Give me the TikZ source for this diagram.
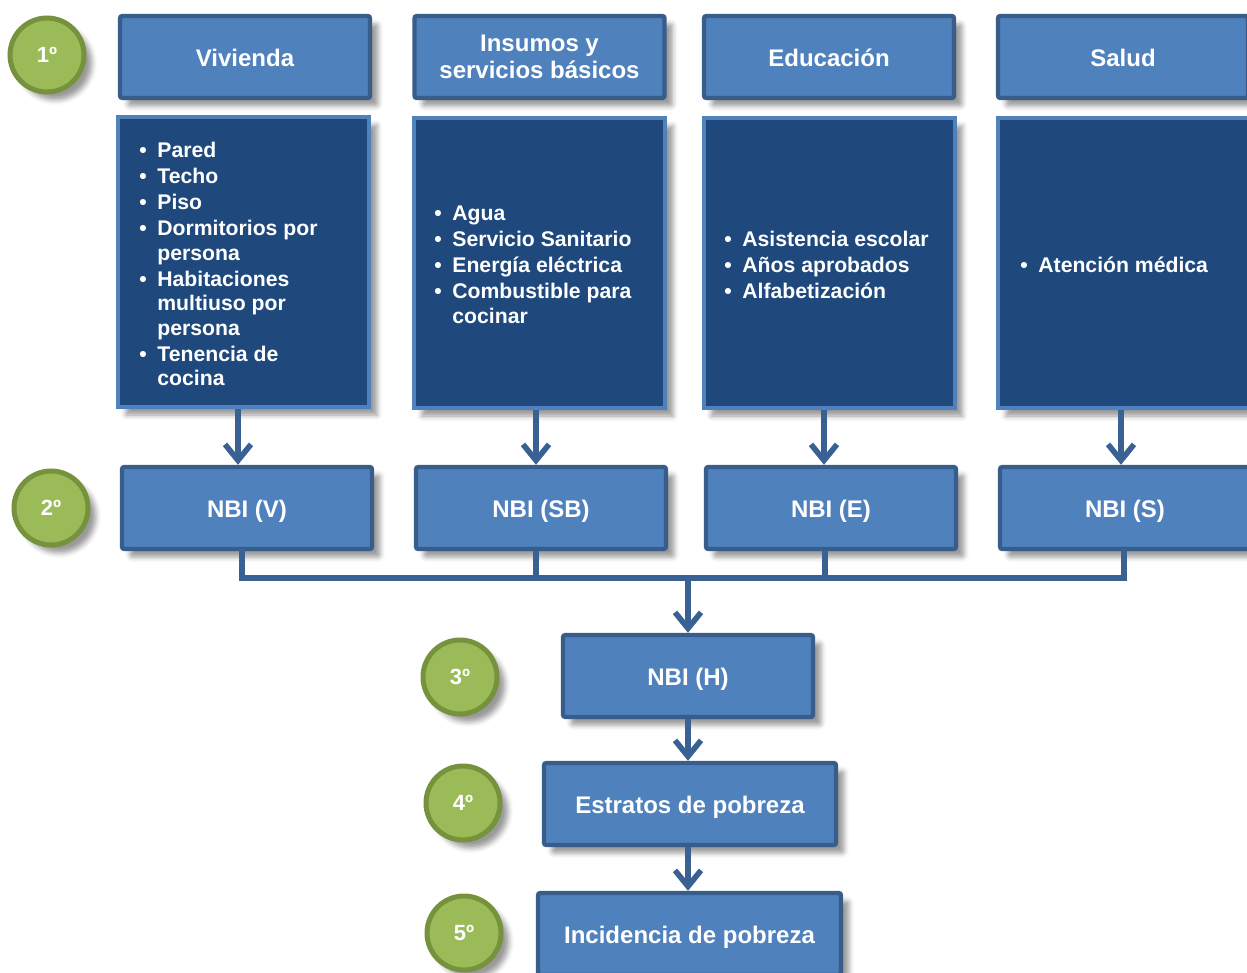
\documentclass[tikz,border=0pt]{standalone}
\usepackage{fontspec}
\setmainfont{Liberation Sans}
\usetikzlibrary{arrows.meta,shadows.blur}
\definecolor{hdrfill}{HTML}{4F81BD}
\definecolor{hdrline}{HTML}{385D8A}
\definecolor{boxfill}{HTML}{1F497D}
\definecolor{arrcol}{HTML}{3A6194}
\definecolor{stepfill}{HTML}{9BBB59}
\definecolor{stepline}{HTML}{76923C}
\newcommand\bul[1]{\makebox[9pt][l]{\textbullet}#1}
\newcommand\cnt[1]{\hspace*{9pt}#1}
\begin{document}
\begin{tikzpicture}[x=0.5pt,y=-0.5pt,
  boxshadow/.style={blur shadow={shadow xshift=4pt, shadow yshift=-4pt, shadow blur radius=2.5pt, shadow opacity=40}},
  hdr/.style={draw=hdrline, line width=2.2pt, fill=hdrfill, rounded corners=1.2pt, text=white,
    font=\fontsize{12}{13.5}\selectfont\bfseries, align=center, minimum width=125pt, minimum height=41pt,
    inner sep=0pt, boxshadow},
  oneline/.style={text height=11.4pt, text depth=2pt},
  listbox/.style={draw=hdrfill, line width=2pt, fill=boxfill, minimum width=125.5pt, minimum height=145pt,
    inner sep=0pt, boxshadow},
  listtxt/.style={text=white, font=\fontsize{10.6}{12.25}\selectfont\bfseries, align=left, anchor=west, inner sep=0pt},
  stepc/.style={circle, draw=stepline, line width=2.5pt, fill=stepfill, minimum size=37pt, inner sep=0pt,
    text=white, font=\fontsize{11}{12}\selectfont\bfseries, boxshadow},
  arr/.style={draw=arrcol, line width=2.8pt, -{Straight Barb[length=8pt, width=13pt]}},
  link/.style={draw=arrcol, line width=2.8pt}]
\useasboundingbox (0,0) rectangle (1247,973);
\clip (0,0) rectangle (1247,973);

% step markers
\node[stepc] (s1) at (47,55) {1º};
\node[stepc] (s2) at (51,508) {2º};
\node[stepc] (s3) at (460,677) {3º};
\node[stepc] (s4) at (463,803) {4º};
\node[stepc] (s5) at (464,933) {5º};

% dimension headers
\node[hdr, oneline] (hv) at (245,57) {Vivienda};
\node[hdr] (hsb) at (539.5,57) {Insumos y\\servicios básicos};
\node[hdr, oneline] (he) at (829,57) {Educación};
\node[hdr, oneline] (hs) at (1123,57) {Salud};

% indicator boxes
\node[listbox] (lv) at (243.5,262) {};
\node[listbox] (lsb) at (539.5,263) {};
\node[listbox] (le) at (829,263) {};
\node[listbox] (ls) at (1123.5,263) {};

\node[listtxt] (tv) at (139,264) {\bul{Pared}\\[0.75pt]\bul{Techo}\\[0.75pt]\bul{Piso}\\[0.75pt]\bul{Dormitorios por}\\\cnt{persona}\\[0.75pt]\bul{Habitaciones}\\\cnt{multiuso por}\\\cnt{persona}\\[0.75pt]\bul{Tenencia de}\\\cnt{cocina}};
\node[listtxt] (tsb) at (434,265) {\bul{Agua}\\[0.75pt]\bul{Servicio Sanitario}\\[0.75pt]\bul{Energía eléctrica}\\[0.75pt]\bul{Combustible para}\\\cnt{cocinar}};
\node[listtxt] (te) at (724,265) {\bul{Asistencia escolar}\\[0.75pt]\bul{Años aprobados}\\[0.75pt]\bul{Alfabetización}};
\node[listtxt] (ts) at (1020,265) {\bul{Atención médica}};

% NBI per dimension
\node[hdr, oneline] (nv) at (247,508) {NBI (V)};
\node[hdr, oneline] (nsb) at (541,508) {NBI (SB)};
\node[hdr, oneline] (ne) at (831,508) {NBI (E)};
\node[hdr, oneline] (ns) at (1125,508) {NBI (S)};

% household level and results
\node[hdr, oneline] (nh) at (688,676) {NBI (H)};
\node[hdr, oneline, minimum width=146pt] (est) at (690,804) {Estratos de pobreza};
\node[hdr, oneline, minimum width=151.5pt] (inc) at (689.5,934) {Incidencia de pobreza};

% arrows from indicators to NBI
\draw[arr] (lv.south -| 238,0) -- (nv.north -| 238,0);
\draw[arr] (lsb.south -| 536,0) -- (nsb.north -| 536,0);
\draw[arr] (le.south -| 824,0) -- (ne.north -| 824,0);
\draw[arr] (ls.south -| 1121,0) -- (ns.north -| 1121,0);

% bus joining the NBI boxes
\coordinate (bus) at (688,578);
\draw[link, line cap=rect] (nv.south -| 242,0) -- (242,578) -- (1124,578) -- (ns.south -| 1124,0);
\draw[link] (nsb.south -| 536,0) -- (536,578);
\draw[link] (ne.south -| 825,0) -- (825,578);

\draw[arr] (bus) -- (nh.north);
\draw[arr] (nh.south) -- (est.north -| nh.south);
\draw[arr] (est.south -| nh.south) -- (inc.north -| nh.south);
\end{tikzpicture}
\end{document}
